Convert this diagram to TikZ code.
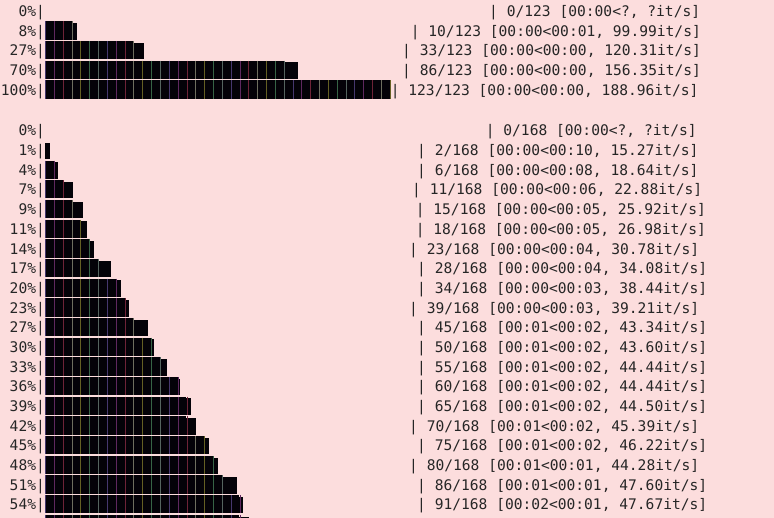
\documentclass[tikz,border=0pt]{standalone}
\usepackage{fontspec}
\newfontfamily\pbmono{DejaVu Sans Mono}
\definecolor{bgpink}{RGB}{252,221,221}
\definecolor{txtgray}{RGB}{38,38,38}
\definecolor{barblk}{RGB}{4,2,8}
\definecolor{sep0}{RGB}{70,55,110}
\definecolor{sep1}{RGB}{95,40,95}
\definecolor{sep2}{RGB}{110,35,55}
\definecolor{sep3}{RGB}{110,110,95}
\definecolor{sep4}{RGB}{100,95,35}
\definecolor{sep5}{RGB}{55,100,70}
\definecolor{sep6}{RGB}{85,100,95}
\tikzset{
  pblab/.style={anchor=base east, inner sep=0pt, text=txtgray, font=\pbmono\fontsize{14.6}{16}\selectfont},
  pbtxt/.style={anchor=base west, inner sep=0pt, text=txtgray, font=\pbmono\fontsize{14.6}{16}\selectfont},
  pbsep/.style={line width=0.65pt}
}
% bar: baseline, full blocks, end x
\newcommand{\pbbar}[3]{%
  \pgfmathsetmacro{\pbtop}{14.8-#1}%
  \pgfmathsetmacro{\pbbot}{-#1-3.5}%
  \pgfmathsetmacro{\pbfull}{45+#2*8.84}%
  \pgfmathsetmacro{\pbptop}{13.0-#1}%
  \ifnum#2>0 \fill[barblk] (45,\pbtop) rectangle (\pbfull,\pbbot);\fi
  \pgfmathtruncatemacro{\pbhas}{(#3>\pbfull+0.1)?1:0}%
  \ifnum\pbhas=1 \fill[barblk] (\pbfull,\pbptop) rectangle (#3,\pbbot);\fi
  \ifnum#2>0
    \pgfmathtruncatemacro{\pblast}{#2-1+\pbhas}%
    \foreach \k in {0,...,\pblast}{%
      \pgfmathtruncatemacro{\ci}{mod(\k,7)}%
      \draw[pbsep, sep\ci] (45.4+\k*8.84,\pbtop) -- (45.4+\k*8.84,\pbbot);
    }%
  \fi
}
% row: name, baseline, label, full blocks, end x, text x, text
\newcommand{\pbrow}[7]{%
  \node[pblab] (lab#1) at (45.1,-#2) {#3\%|};
  \node[pbtxt] (txt#1) at (#6,-#2) {#7};
  \pbbar{#2}{#4}{#5}%
}
\begin{document}
\begin{tikzpicture}[x=1pt,y=1pt]
\useasboundingbox (0,0) rectangle (774,-518);
\fill[bgpink] (0,0) rectangle (774,-518);
\begin{scope}
\clip (0,0) rectangle (774,-518);
% first progress bar
\pbrow{a0}{16.5}{0}{0}{45}{489}{| 0/123 [00:00<?, ?it/s]}
\pbrow{a1}{36.2}{8}{3}{76.7}{410.6}{| 10/123 [00:00<00:01, 99.99it/s]}
\pbrow{a2}{55.9}{27}{10}{144}{402}{| 33/123 [00:00<00:00, 120.31it/s]}
\pbrow{a3}{75.5}{70}{27}{298}{402}{| 86/123 [00:00<00:00, 156.35it/s]}
\pbrow{a4}{95.2}{100}{39}{390}{390.6}{| 123/123 [00:00<00:00, 188.96it/s]}
% second progress bar
\pbrow{b0}{136}{0}{0}{45}{485.6}{| 0/168 [00:00<?, ?it/s]}
\pbrow{b1}{155.7}{1}{0}{50}{417}{| 2/168 [00:00<00:10, 15.27it/s]}
\pbrow{b2}{175.4}{4}{1}{58.3}{417}{| 6/168 [00:00<00:08, 18.64it/s]}
\pbrow{b3}{195}{7}{2}{73.3}{412}{| 11/168 [00:00<00:06, 22.88it/s]}
\pbrow{b4}{214.7}{9}{3}{82.7}{415.6}{| 15/168 [00:00<00:05, 25.92it/s]}
\pbrow{b5}{234.4}{11}{4}{87.3}{415.6}{| 18/168 [00:00<00:05, 26.98it/s]}
\pbrow{b6}{254.1}{14}{5}{94}{409}{| 23/168 [00:00<00:04, 30.78it/s]}
\pbrow{b7}{273.8}{17}{6}{110.7}{417}{| 28/168 [00:00<00:04, 34.08it/s]}
\pbrow{b8}{293.4}{20}{8}{120.7}{417}{| 34/168 [00:00<00:03, 38.44it/s]}
\pbrow{b9}{313.1}{23}{9}{129.3}{409}{| 39/168 [00:00<00:03, 39.21it/s]}
\pbrow{b10}{332.8}{27}{10}{148.3}{417}{| 45/168 [00:01<00:02, 43.34it/s]}
\pbrow{b11}{352.5}{30}{12}{154}{417}{| 50/168 [00:01<00:02, 43.60it/s]}
\pbrow{b12}{372.2}{33}{13}{167}{417}{| 55/168 [00:01<00:02, 44.44it/s]}
\pbrow{b13}{391.8}{36}{15}{179.5}{417}{| 60/168 [00:01<00:02, 44.44it/s]}
\pbrow{b14}{411.5}{39}{16}{190.7}{417}{| 65/168 [00:01<00:02, 44.50it/s]}
\pbrow{b15}{431.2}{42}{16}{196}{409}{| 70/168 [00:01<00:02, 45.39it/s]}
\pbrow{b16}{450.9}{45}{18}{209.3}{417}{| 75/168 [00:01<00:02, 46.22it/s]}
\pbrow{b17}{470.6}{48}{19}{218}{409}{| 80/168 [00:01<00:01, 44.28it/s]}
\pbrow{b18}{490.2}{51}{20}{236.7}{417}{| 86/168 [00:01<00:01, 47.60it/s]}
\pbrow{b19}{509.9}{54}{22}{242.7}{417}{| 91/168 [00:02<00:01, 47.67it/s]}
\pbbar{529.6}{22}{249.3}
\end{scope}
\end{tikzpicture}
\end{document}
